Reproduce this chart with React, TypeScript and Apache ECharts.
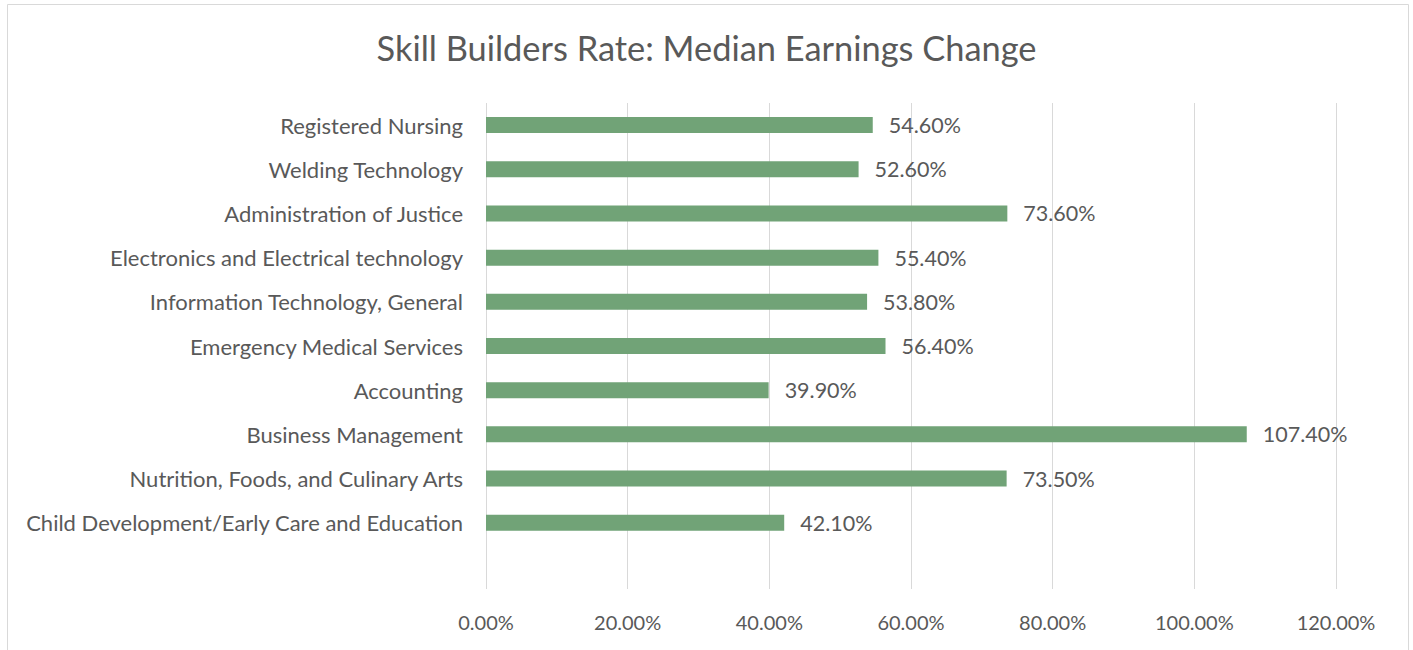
import React, { useEffect, useRef } from "react";
import * as echarts from "echarts";

const titleText = "Skill Builders Rate: Median Earnings Change";
const categories = [
  "Registered Nursing",
  "Welding Technology",
  "Administration of Justice",
  "Electronics and Electrical technology",
  "Information Technology, General",
  "Emergency Medical Services",
  "Accounting",
  "Business Management",
  "Nutrition, Foods, and Culinary Arts",
  "Child Development/Early Care and Education",
  "",
];
const values: (number | null)[] = [54.6, 52.6, 73.6, 55.4, 53.8, 56.4, 39.9, 107.4, 73.5, 42.1, null];
const xMin = 0;
const xMax = 120;
const xStep = 20;

const FONT = "Lato, 'Open Sans', sans-serif";
const TEXT = "#595959";
const GRID = "#d9d9d9";
const BAR = "#71a377";

export default function App() {
  const ref = useRef<HTMLDivElement>(null);
  useEffect(() => {
    if (!ref.current) return;
    const chart = echarts.init(ref.current, null, { renderer: "svg" });
    chart.setOption({
      animation: false,
      backgroundColor: "#ffffff",
      textStyle: { fontFamily: FONT },
      title: {
        text: titleText,
        left: "center",
        top: 25,
        textStyle: { color: TEXT, fontSize: 34.4, fontWeight: "normal", fontFamily: FONT },
      },
      graphic: [
        {
          type: "rect",
          shape: { x: 7.5, y: 4.5, width: 1401, height: 660 },
          style: { fill: "none", stroke: GRID, lineWidth: 1 },
          silent: true,
        },
      ],
      grid: { left: 486, right: 77, top: 103, bottom: 61, containLabel: false },
      xAxis: {
        type: "value",
        min: xMin,
        max: xMax,
        interval: xStep,
        axisLine: { show: false },
        axisTick: { show: false },
        splitLine: { show: true, lineStyle: { color: GRID, width: 1 } },
        axisLabel: {
          color: TEXT,
          fontSize: 20,
          fontFamily: FONT,
          margin: 23,
          formatter: (v: number) => v.toFixed(2) + "%",
        },
      },
      yAxis: {
        type: "category",
        inverse: true,
        data: categories,
        axisLine: { show: false },
        axisTick: { show: false },
        axisLabel: { color: TEXT, fontSize: 22, fontFamily: FONT, margin: 23 },
      },
      series: [
        {
          type: "bar",
          data: values,
          barWidth: 16,
          itemStyle: { color: BAR },
          label: {
            show: true,
            position: "right",
            distance: 16,
            color: TEXT,
            fontSize: 21.5,
            fontFamily: FONT,
            formatter: (p: any) => (p.value == null ? "" : Number(p.value).toFixed(2) + "%"),
          },
        },
      ],
    });
    return () => chart.dispose();
  }, []);
  return (
    <div
      ref={ref}
      style={{ position: "fixed", left: 0, top: 0, width: 1413, height: 650 }}
    />
  );
}
